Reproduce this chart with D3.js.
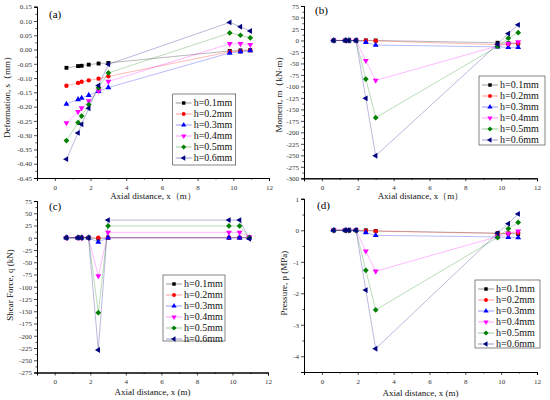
<!DOCTYPE html>
<html>
<head>
<meta charset="utf-8">
<script src="https://cdn.jsdelivr.net/npm/d3@7"></script>
<style>
  body { margin: 0; background: #fff; }
  svg { display: block; font-family: "Liberation Serif", "DejaVu Serif", serif; }
</style>
</head>
<body>
<div id="chart"></div>
<script>
// ---- data ----
const axialX = [0.65, 1.3, 1.5, 1.9, 2.45, 3.0, 9.8, 10.4, 10.95];
const seriesNames = ["h=0.1mm", "h=0.2mm", "h=0.3mm", "h=0.4mm", "h=0.5mm", "h=0.6mm"];
const seriesColors = ["#000000", "#ff0000", "#0000ff", "#ff00ff", "#008000", "#000080"];

// (a) deformation, mm
const deformation = [
  [-0.064, -0.058, -0.057, -0.053, -0.049, -0.047, -0.005, -0.003, -0.002],
  [-0.127, -0.117, -0.113, -0.108, -0.102, -0.094, -0.008, -0.006, -0.003],
  [-0.191, -0.175, -0.170, -0.160, -0.146, -0.133, -0.012, -0.008, -0.004],
  [-0.257, -0.218, -0.205, -0.180, -0.145, -0.112, 0.020, 0.020, 0.017],
  [-0.319, -0.256, -0.233, -0.193, -0.134, -0.082, 0.058, 0.050, 0.041],
  [-0.384, -0.292, -0.262, -0.206, -0.126, -0.052, 0.095, 0.080, 0.065]
];
// (b) moment, kN·m
const moment = [
  [0, 0, 0, 0, 0, 0, -5, -6, -7],
  [0, 0, 0, 0, 0, -1, -9, -8, -6],
  [0, 0, 0, 0, -4, -10, -14, -15, -15],
  [0, 0, 0, 0, -44, -87, -12, -7, -3],
  [0, 0, 0, 0, -84, -168, -13, 5, 17],
  [0, 0, 0, 0, -126, -251, -8, 15, 34]
];
// (c) shear force, kN
const shear = [
  [0, 0, 0, 0, -2, 0, 0, 0, 0],
  [0, 0, 0, 0, 0, 0, 0, 0, 1],
  [0, 0, 0, 0, -9, 0, 0, 0, 0],
  [0, 0, 0, 0, -78, 11, 11, 11, 1],
  [0, 0, 0, 0, -153, 24, 24, 24, 0],
  [0, 0, 0, 0, -229, 36, 36, 36, -2]
];
// (d) pressure, MPa
const pressure = [
  [0, 0, 0, 0, 0, -0.02, -0.09, -0.10, -0.12],
  [0, 0, 0, 0, -0.01, -0.03, -0.10, -0.10, -0.08],
  [0, 0, 0, 0, -0.07, -0.16, -0.21, -0.22, -0.23],
  [0, 0, 0, 0, -0.66, -1.30, -0.20, -0.10, -0.03],
  [0, 0, 0, 0, -1.27, -2.53, -0.23, 0.05, 0.25],
  [0, 0, 0, 0, -1.90, -3.76, -0.09, 0.21, 0.52]
];

const xMajorTicks = [0, 2, 4, 6, 8, 10, 12];
const xMinorTicks = [-1, 1, 3, 5, 7, 9, 11];

const width = 550, height = 400;
const svg = d3.select("#chart").append("svg")
  .attr("width", width)
  .attr("height", height)
  .attr("viewBox", `0 0 ${width} ${height}`);

// Origin-like symbol order: square, circle, up, down, diamond, left
function symbolPath(i, size) {
  if (i === 0) return { d: d3.symbol(d3.symbolSquare, size)(), rot: 0 };
  if (i === 1) return { d: d3.symbol(d3.symbolCircle, size)(), rot: 0 };
  if (i === 2) return { d: d3.symbol(d3.symbolTriangle, size)(), rot: 0 };
  if (i === 3) return { d: d3.symbol(d3.symbolTriangle, size)(), rot: 180 };
  if (i === 4) return { d: d3.symbol(d3.symbolSquare, size * 1.1)(), rot: 45 };
  return { d: d3.symbol(d3.symbolTriangle, size)(), rot: -90 };
}

/**
 * Draws one panel: axes, lines, markers, legend and labels.
 */
function drawPanel(p) {
  const g = svg.append("g");
  const x = d3.scaleLinear().domain([-1, 12]).range(p.xRange);
  const y = d3.scaleLinear().domain(p.yDomain).range(p.yRange);

  // x axis
  const xAxis = g.append("g").attr("transform", `translate(0,${p.yRange[0]})`);
  xAxis.call(d3.axisBottom(x).tickValues(xMajorTicks).tickSize(3).tickPadding(4).tickFormat(d3.format("d")));
  xAxis.append("g").call(d3.axisBottom(x).tickValues(xMinorTicks).tickSize(1.6).tickFormat(""));
  // y axis
  const yAxis = g.append("g").attr("transform", `translate(${p.xRange[0]},0)`);
  yAxis.call(d3.axisLeft(y).tickValues(p.yTicks).tickSize(3).tickPadding(2).tickFormat(p.fmt));
  yAxis.append("g").call(d3.axisLeft(y).tickValues(p.yMinor).tickSize(1.6).tickFormat(""));

  g.selectAll(".domain").attr("stroke", "#000").attr("stroke-width", 1);
  g.selectAll(".tick line").attr("stroke", "#000").attr("stroke-width", 0.7);
  g.selectAll(".tick text").attr("font-size", 7).attr("fill", "#333")
    .attr("font-family", "Liberation Serif, serif");

  // series lines
  const line = d3.line().x((d, i) => x(axialX[i])).y(d => y(d));
  p.data.forEach((vals, k) => {
    g.append("path")
      .attr("d", line(vals))
      .attr("fill", "none")
      .attr("stroke", seriesColors[k])
      .attr("stroke-opacity", 0.35)
      .attr("stroke-width", 0.8);
  });
  // markers
  p.data.forEach((vals, k) => {
    const sym = symbolPath(k, 15);
    g.selectAll(null)
      .data(vals)
      .join("path")
      .attr("d", sym.d)
      .attr("transform", (d, i) => `translate(${x(axialX[i])},${y(d)}) rotate(${sym.rot})`)
      .attr("fill", seriesColors[k]);
  });

  // legend
  const lg = g.append("g").attr("transform", `translate(${p.legend[0]},${p.legend[1]})`);
  lg.append("rect")
    .attr("width", p.legend[2]).attr("height", p.legend[3])
    .attr("fill", "#fff").attr("stroke", "#333").attr("stroke-width", 0.6);
  seriesNames.forEach((name, k) => {
    const ry = 9 + k * 11;
    lg.append("line").attr("x1", 3).attr("x2", 19).attr("y1", ry).attr("y2", ry)
      .attr("stroke", seriesColors[k]).attr("stroke-opacity", 0.5).attr("stroke-width", 0.8);
    const sym = symbolPath(k, 12);
    lg.append("path").attr("d", sym.d)
      .attr("transform", `translate(11,${ry}) rotate(${sym.rot})`)
      .attr("fill", seriesColors[k]);
    lg.append("text").attr("x", 21).attr("y", ry + 3.4)
      .attr("font-size", 10).attr("fill", "#111").text(name);
  });

  // panel label
  g.append("text").attr("x", p.tag[0]).attr("y", p.tag[1])
    .attr("font-size", 11).attr("fill", "#000").text(p.tagText);
  // axis titles
  g.append("text")
    .attr("x", (p.xRange[0] + p.xRange[1]) / 2).attr("y", p.xLabelY)
    .attr("text-anchor", "middle").attr("font-size", 9).attr("fill", "#111")
    .text(p.xLabel);
  g.append("text")
    .attr("transform", `translate(${p.yLabelPos[0]},${p.yLabelPos[1]}) rotate(-90)`)
    .attr("text-anchor", "middle").attr("font-size", 9).attr("fill", "#111")
    .text(p.yLabel);
}

const fmt2 = d => (Math.abs(d) < 1e-9 ? "0.00" : d.toFixed(2));
const fmt0 = d => String(Math.round(d));

drawPanel({
  data: deformation,
  xRange: [37, 269], yDomain: [-0.45, 0.15], yRange: [178, 6.7],
  yTicks: d3.range(-9, 4).map(i => i * 0.05),
  yMinor: d3.range(-9, 3).map(i => i * 0.05 + 0.025),
  fmt: fmt2,
  legend: [172.7, 94, 63, 71],
  tag: [49, 18], tagText: "(a)",
  xLabel: "Axial distance, x\uFF08m\uFF09", xLabelY: 199,
  yLabel: "Deformation, s\uFF08mm\uFF09", yLabelPos: [10, 95]
});
drawPanel({
  data: moment,
  xRange: [304, 537], yDomain: [-300, 75], yRange: [178.3, 6],
  yTicks: d3.range(-12, 4).map(i => i * 25),
  yMinor: d3.range(-12, 3).map(i => i * 25 + 12.5),
  fmt: fmt0,
  legend: [479, 76, 66, 69],
  tag: [315, 14], tagText: "(b)",
  xLabel: "Axial distance, x\uFF08m\uFF09", xLabelY: 199,
  yLabel: "Moment, m\uFF08kN\u00B7m\uFF09", yLabelPos: [282, 92]
});
drawPanel({
  data: shear,
  xRange: [37, 268], yDomain: [-275, 75], yRange: [372.5, 201],
  yTicks: d3.range(-11, 4).map(i => i * 25),
  yMinor: d3.range(-11, 3).map(i => i * 25 + 12.5),
  fmt: fmt0,
  legend: [163, 275, 62, 66],
  tag: [49, 210], tagText: "(c)",
  xLabel: "Axial distance, x (m)", xLabelY: 395,
  yLabel: "Shear Force, q (kN)", yLabelPos: [13, 285]
});
drawPanel({
  data: pressure,
  xRange: [304, 537], yDomain: [-4.5, 1], yRange: [372, 198.8],
  yTicks: [-4, -3, -2, -1, 0, 1],
  yMinor: [-4.5, -3.5, -2.5, -1.5, -0.5, 0.5],
  fmt: fmt0,
  legend: [475, 280, 65, 68],
  tag: [317, 209], tagText: "(d)",
  xLabel: "Axial distance, x (m)", xLabelY: 396,
  yLabel: "Pressure, p (MPa)", yLabelPos: [287, 283]
});
</script>
</body>
</html>
